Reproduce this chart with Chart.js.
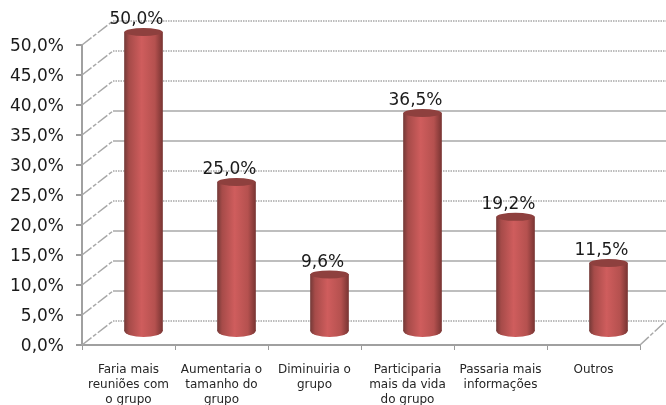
<!DOCTYPE html>
<html>
<head>
<meta charset="utf-8">
<style>
body { margin: 0; background: #fff; }
canvas { display: block; }
</style>
<script src="https://cdn.jsdelivr.net/npm/chart.js@4"></script>
</head>
<body>
<canvas id="grafico" width="666" height="405"></canvas>
<script>
var categorias = [
    ["Faria mais", "reuniões com", "o grupo"],
    ["Aumentaria o", "tamanho do", "grupo"],
    ["Diminuiria o", "grupo"],
    ["Participaria", "mais da vida", "do grupo"],
    ["Passaria mais", "informações"],
    ["Outros"]
];
var valores = [50.0, 25.0, 9.6, 36.5, 19.2, 11.5];
var marcasY = [0, 5, 10, 15, 20, 25, 30, 35, 40, 45, 50];
var linhasPontilhadas = [0, 20, 25, 40, 45, 50]; // linhas do fundo que aparecem pontilhadas

function formata(v) {
    return v.toFixed(1).replace(".", ",") + "%";
}

// efeito 3D: parede do fundo, cilindros e rótulos
var efeito3d = {
    id: "efeito3d",
    beforeDatasetsDraw: function(chart) {
        var ctx = chart.ctx, area = chart.chartArea, y = chart.scales.y;
        ctx.save();
        ctx.strokeStyle = "#a8a8a8";
        ctx.lineWidth = 1.5;
        marcasY.forEach(function(m) {
            var py = y.getPixelForValue(m);
            // diagonal
            ctx.setLineDash([12, 2, 4, 2]);
            ctx.beginPath();
            ctx.moveTo(area.left, py);
            ctx.lineTo(area.left + 31, py - 24);
            ctx.stroke();
            // linha do fundo
            ctx.setLineDash(linhasPontilhadas.indexOf(m) >= 0 ? [1.5, 1] : []);
            ctx.beginPath();
            ctx.moveTo(area.left + 31, py - 24);
            ctx.lineTo(666, py - 24);
            ctx.stroke();
        });
        // diagonal da direita
        ctx.setLineDash([12, 2, 4, 2]);
        ctx.beginPath();
        ctx.moveTo(area.right, area.bottom);
        ctx.lineTo(666, area.bottom - 24);
        ctx.stroke();
        ctx.restore();

        // desloca as barras para o meio da profundidade
        ctx.save();
        ctx.translate(15, -13);
        chart.getDatasetMeta(0).data.forEach(function(bar) {
            ctx.fillStyle = corCilindro(ctx, bar.x, bar.width);
            ctx.beginPath();
            ctx.ellipse(bar.x, bar.base, bar.width / 2, 6, 0, 0, Math.PI * 2);
            ctx.fill();
        });
    },
    afterDatasetsDraw: function(chart) {
        var ctx = chart.ctx;
        chart.getDatasetMeta(0).data.forEach(function(bar) {
            ctx.fillStyle = "#8e403e";
            ctx.beginPath();
            ctx.ellipse(bar.x, bar.y, bar.width / 2, 4, 0, 0, Math.PI * 2);
            ctx.fill();
        });
        ctx.restore();

        ctx.save();
        ctx.font = "17px 'DejaVu Sans'";
        ctx.fillStyle = "#1a1a1a";
        ctx.textAlign = "center";
        ctx.textBaseline = "middle";
        chart.getDatasetMeta(0).data.forEach(function(bar, i) {
            ctx.fillText(formata(valores[i]), bar.x + 8, bar.y - 25);
        });
        ctx.restore();
    }
};

function corCilindro(ctx, x, largura) {
    var g = ctx.createLinearGradient(x - largura / 2, 0, x + largura / 2, 0);
    g.addColorStop(0, "#763a38");
    g.addColorStop(0.12, "#a64b49");
    g.addColorStop(0.45, "#cf5d5d");
    g.addColorStop(0.8, "#b5514f");
    g.addColorStop(1, "#7a3533");
    return g;
}

const config = {
    type: "bar",
    data: {
        labels: categorias,
        datasets: [
            {
                data: valores,
                barThickness: 38,
                clip: false,
                backgroundColor: function(c) {
                    var escala = c.chart.scales.x;
                    if (!escala || !c.chart.chartArea) return "#c0504d";
                    return corCilindro(c.chart.ctx, escala.getPixelForValue(c.dataIndex), 38);
                }
            }
        ]
    },
    options: {
        responsive: false,
        animation: false,
        layout: { padding: { top: 45, right: 26, left: 0, bottom: 0 } },
        plugins: { legend: { display: false }, tooltip: { enabled: false } },
        scales: {
            x: {
                afterFit: function(s) { s.height = 60; },
                grid: { offset: true, drawOnChartArea: false, tickLength: 5, color: "#9a9a9a" },
                border: { color: "#a0a0a0", width: 2, dash: [2, 1] },
                ticks: {
                    maxRotation: 0,
                    minRotation: 0,
                    padding: 13,
                    color: "#262626",
                    font: { family: "'DejaVu Sans'", size: 12, lineHeight: 1.22 }
                }
            },
            y: {
                min: 0,
                max: 50,
                afterFit: function(s) { s.width = 82; },
                afterBuildTicks: function(s) {
                    s.ticks = marcasY.map(function(m) { return { value: m }; });
                },
                grid: { drawOnChartArea: false, tickLength: 6, color: "#9a9a9a", lineWidth: 2 },
                border: { color: "#a0a0a0", width: 2 },
                ticks: {
                    padding: 12,
                    labelOffset: 2,
                    color: "#1a1a1a",
                    font: { family: "'DejaVu Sans'", size: 17 },
                    callback: function(v) { return formata(v); }
                }
            }
        }
    },
    plugins: [efeito3d]
};

var grafico = new Chart(document.getElementById("grafico"), config);
</script>
</body>
</html>
